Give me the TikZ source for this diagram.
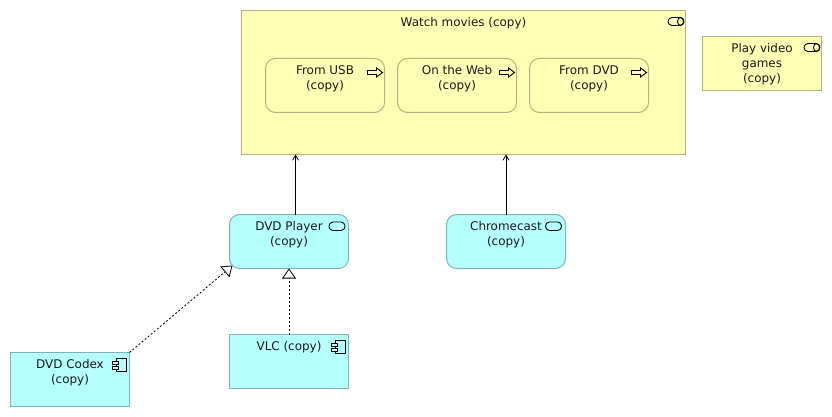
\documentclass[tikz,border=0pt]{standalone}
\usepackage{fontspec}
\setmainfont{DejaVu Sans}
\usetikzlibrary{arrows.meta}
\definecolor{yfill}{HTML}{FFFFB5}
\definecolor{yline}{HTML}{B2B27F}
\definecolor{cfill}{HTML}{B5FFFF}
\definecolor{cline}{HTML}{7FB2B2}
\tikzset{
  x=1pt,y=-1pt,
  every node/.style={font=\fontsize{11.95}{15}\selectfont,inner sep=0pt,outer sep=0pt},
  ybox/.style={draw=yline,fill=yfill,line width=1pt,text=black!90},
  cbox/.style={draw=cline,fill=cfill,line width=1pt,text=black!90},
  rnd/.style={rounded corners=10pt},
  icon/.style={draw=black,line width=0.9pt,fill=none},
  flow/.style={draw=black,line width=0.8pt,-{Straight Barb[length=5pt,width=6pt,line width=0.8pt]}},
  real/.style={draw=black,line width=0.8pt,dash pattern=on 2pt off 2pt,-{Triangle[open,length=10pt,width=14pt,line width=0.8pt,fill=white]}},
}
\newcommand{\lbl}[2]{\parbox[c][54pt][t]{119pt}{\vspace{#1pt}\centering #2\par}}
\newcommand{\service}[2]{\draw[icon,rounded corners=4pt] (#1,#2) rectangle ++(16,8);\draw[icon] (#1+12.5,#2+4) ellipse (3 and 4);}
\newcommand{\serv}[2]{\draw[icon,rounded corners=4pt] (#1,#2) rectangle ++(16,8.5);}
\newcommand{\proc}[2]{\draw[icon,line join=miter] (#1,#2+3.5) -- ++(9,0) -- ++(0,-2.5) -- ++(6,4.5) -- ++(-6,4.5) -- ++(0,-2.5) -- ++(-9,0) -- cycle;}
\newcommand{\comp}[2]{\draw[icon] (#1+4,#2) rectangle ++(10,13);\draw[icon,fill=cfill] (#1,#2+2.5) rectangle ++(6,3);\draw[icon,fill=cfill] (#1,#2+8) rectangle ++(6,3);}
\begin{document}
\begin{tikzpicture}
\useasboundingbox (0,0) rectangle (832,417);
\fill[white] (0,0) rectangle (832,417);
\node[ybox,anchor=north west] (watch) at (241.5,10.5) {\parbox[c][144pt][t]{444pt}{\vspace{7pt}\centering Watch movies (copy)\par}};
\node[ybox,anchor=north west] (games) at (702.5,36.5) {\lbl{7}{Play video\\games\\(copy)}};
\node[ybox,rnd,anchor=north west] (usb) at (265.5,58.5) {\lbl{7}{From USB\\(copy)}};
\node[ybox,rnd,anchor=north west] (web) at (397.5,58.5) {\lbl{7}{On the Web\\(copy)}};
\node[ybox,rnd,anchor=north west] (dvd) at (529.5,58.5) {\lbl{7}{From DVD\\(copy)}};
\node[cbox,rnd,anchor=north west] (player) at (229.5,214.5) {\lbl{7}{DVD Player\\(copy)}};
\node[cbox,rnd,anchor=north west] (chrome) at (446.5,214.5) {\lbl{7}{Chromecast\\(copy)}};
\node[cbox,anchor=north west] (vlc) at (229.5,334.5) {\lbl{7}{VLC (copy)}};
\node[cbox,anchor=north west] (codex) at (10.5,352.5) {\lbl{7}{DVD Codex\\(copy)}};
\service{668}{17.5}
\service{804}{43.5}
\proc{367.5}{67}
\proc{499.5}{67}
\proc{631.5}{67}
\serv{329}{222}
\serv{545.5}{222}
\comp{331}{340.5}
\comp{112}{358.5}
\draw[flow] ([xshift=6.5pt]player.north) -- ([xshift=6.5pt]player.north |- watch.south);
\draw[flow] (chrome.north) -- (chrome.north |- watch.south);
\draw[real] (vlc.north) -- (vlc.north |- player.south);
\draw[real] (codex.north east) -- ([shift={(3pt,3pt)}]player.south west);
\end{tikzpicture}
\end{document}
